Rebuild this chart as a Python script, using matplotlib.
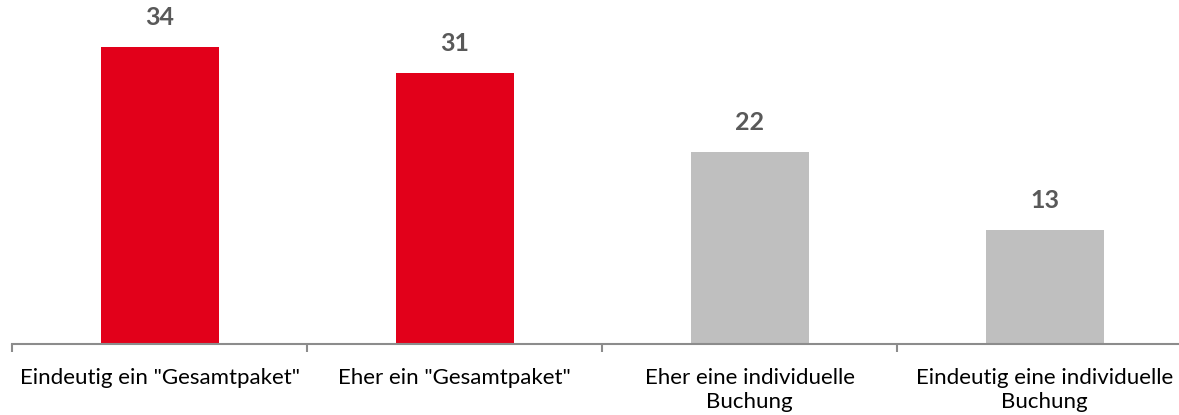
import matplotlib
matplotlib.use("Agg")
import matplotlib.pyplot as plt

categories = ['Eindeutig ein "Gesamtpaket"', 'Eher ein "Gesamtpaket"',
              'Eher eine individuelle\nBuchung', 'Eindeutig eine individuelle\nBuchung']
values = [34, 31, 22, 13]
colors = ['#E2001A', '#E2001A', '#BFBFBF', '#BFBFBF']

W, H = 1179, 415
fig = plt.figure(figsize=(W/100, H/100), dpi=100)
ax = fig.add_axes([12/W, 71/H, 1180/W, 344/H])

x = list(range(len(values)))
bars = ax.bar(x, values, width=0.4, color=colors)
ax.set_xlim(-0.5, 3.5)
ax.set_ylim(0, 344/8.74)

for xi, v in zip(x, values):
    ax.annotate(str(v), (xi, v), xytext=(0, 13), textcoords='offset points',
                ha='center', va='bottom', fontsize=18, fontweight='bold',
                color='#595959', family='Lato')

for s in ['top', 'right', 'left']:
    ax.spines[s].set_visible(False)
ax.spines['bottom'].set_color('#8C8C8C')
ax.spines['bottom'].set_linewidth(1.5)
ax.set_yticks([])
ax.set_xticks([-0.5, 0.5, 1.5, 2.5, 3.5])
ax.set_xticklabels([])
ax.tick_params(axis='x', which='major', length=6, width=1.5, color='#8C8C8C')
ax.set_xticks(x, minor=True)
ax.set_xticklabels(categories, minor=True, fontsize=16, family='Lato', color='#000000',
                   linespacing=1.3)
ax.tick_params(axis='x', which='minor', length=0, pad=17)

fig.savefig('out.png', dpi=100)
